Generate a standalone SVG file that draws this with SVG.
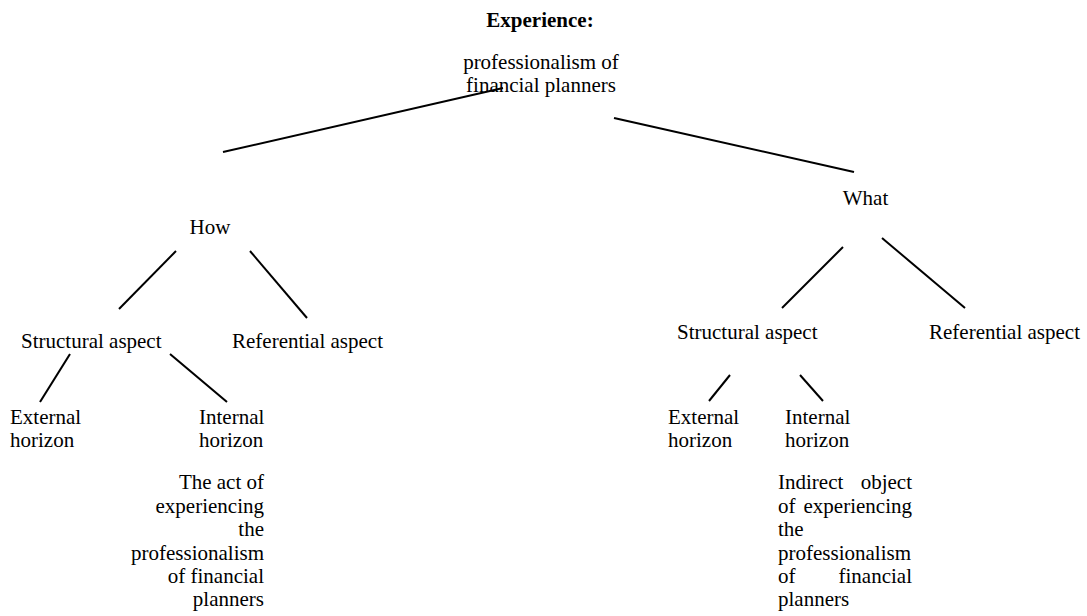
<svg xmlns="http://www.w3.org/2000/svg" width="1087" height="616" viewBox="0 0 1087 616">
<style>
text{font-family:"Liberation Serif","Times New Roman",serif;font-size:21px;fill:#000}
.b{font-weight:bold}
.m{text-anchor:middle}
.e{text-anchor:end}
.c line{stroke:#000;stroke-width:2;stroke-linecap:butt}
</style>
<rect width="1087" height="616" fill="#fff"/>
<g class="c" id="connectors">
<line x1="223" y1="152" x2="503" y2="88"/>
<line x1="614" y1="118" x2="854" y2="172"/>
<line x1="176" y1="251" x2="119" y2="309"/>
<line x1="250" y1="251" x2="307" y2="318"/>
<line x1="70" y1="354" x2="40" y2="402"/>
<line x1="170" y1="354" x2="227" y2="402"/>
<line x1="843" y1="247" x2="782" y2="308"/>
<line x1="882" y1="238" x2="965" y2="308"/>
<line x1="730" y1="375" x2="709" y2="401"/>
<line x1="800" y1="375" x2="823" y2="401"/>
</g>
<g id="root">
<text class="b m" x="540" y="27">Experience:</text>
<text class="m" x="541" y="69">professionalism of</text>
<text class="m" x="541" y="92">financial planners</text>
</g>
<g id="how"><text class="m" x="210" y="234">How</text></g>
<g id="how-structural"><text x="21" y="348">Structural aspect</text></g>
<g id="how-referential"><text x="232" y="348">Referential aspect</text></g>
<g id="how-external"><text x="10" y="424">External</text><text x="10" y="447">horizon</text></g>
<g id="how-internal"><text x="199" y="424">Internal</text><text x="199" y="447">horizon</text></g>
<g id="how-act">
<text class="e" x="264" y="489">The act of</text>
<text class="e" x="264" y="512.5">experiencing</text>
<text class="e" x="264" y="536">the</text>
<text class="e" x="264" y="559.5">professionalism</text>
<text class="e" x="264" y="583">of financial</text>
<text class="e" x="264" y="606">planners</text>
</g>
<g id="what"><text class="m" x="865.5" y="205">What</text></g>
<g id="what-structural"><text x="677" y="339">Structural aspect</text></g>
<g id="what-referential"><text x="929" y="339">Referential aspect</text></g>
<g id="what-external"><text x="668" y="424">External</text><text x="668" y="447">horizon</text></g>
<g id="what-internal"><text x="785" y="424">Internal</text><text x="785" y="447">horizon</text></g>
<g id="what-object">
<text x="778" y="489">Indirect</text><text class="e" x="912" y="489">object</text>
<text x="778" y="512.5">of</text><text class="e" x="912" y="512.5">experiencing</text>
<text x="778" y="536">the</text>
<text x="778" y="559.5">professionalism</text>
<text x="778" y="583">of</text><text class="e" x="912" y="583">financial</text>
<text x="778" y="606">planners</text>
</g>
</svg>
